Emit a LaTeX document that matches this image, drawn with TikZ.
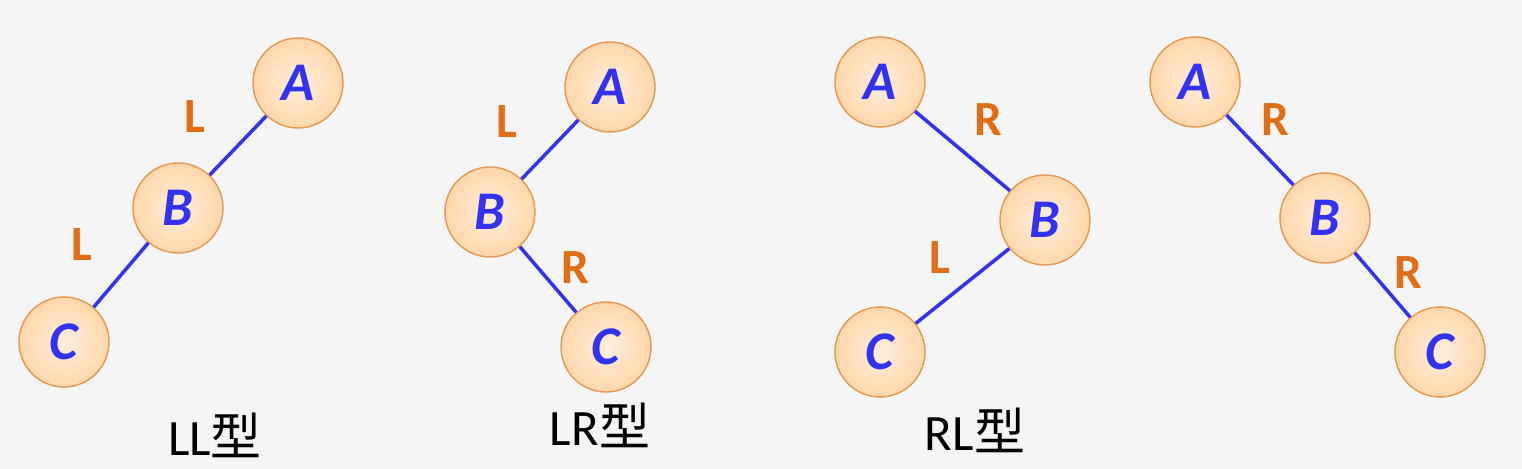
\documentclass[tikz,border=0pt]{standalone}
\usepackage{fontspec}
\setmainfont{Carlito}
\newfontfamily\cjk{Noto Sans CJK SC}
\definecolor{NodeFill}{RGB}{255,214,170}
\definecolor{NodeEdge}{RGB}{232,150,80}
\definecolor{LetterBlue}{RGB}{50,50,240}
\definecolor{SideOrange}{RGB}{225,110,20}
\definecolor{PageBg}{RGB}{245,245,245}

\begin{document}
\begin{tikzpicture}[
    tnode/.style={circle, draw=NodeEdge, line width=0.8pt, inner color=NodeFill!40, outer color=NodeFill, minimum size=1.8cm, font=\fontsize{31}{31}\selectfont\bfseries\itshape, text=LetterBlue},
    edge/.style={draw=LetterBlue, line width=2pt},
    side/.style={font=\fontsize{28}{28}\selectfont\bfseries, text=SideOrange},
    title/.style={font=\fontsize{29}{29}\selectfont}
  ]
    \fill[PageBg] (0,0) rectangle (30.44,9.38);

    % LL
    \node[tnode] (a1) at (5.96,7.72) {A};
    \node[tnode] (b1) at (3.56,5.22) {B};
    \node[tnode] (c1) at (1.28,2.54) {C};
    \draw[edge] (a1) -- (b1);
    \draw[edge] (b1) -- (c1);
    \node[side] (l1) at (3.90,7.04) {L};
    \node[side] (l2) at (1.64,4.48) {L};
    \node[title] (t1) at (4.30,0.68) {LL{\cjk 型}};

    % LR
    \node[tnode] (a2) at (12.2,7.64) {A};
    \node[tnode] (b2) at (9.8,5.14) {B};
    \node[tnode] (c2) at (12.12,2.44) {C};
    \draw[edge] (a2) -- (b2);
    \draw[edge] (b2) -- (c2);
    \node[side] (l3) at (10.14,6.94) {L};
    \node[side] (r1) at (11.5,4.02) {R};
    \node[title] (t2) at (12.0,0.88) {LR{\cjk 型}};

    % RL
    \node[tnode] (a3) at (17.6,7.74) {A};
    \node[tnode] (b3) at (20.9,4.98) {B};
    \node[tnode] (c3) at (17.6,2.34) {C};
    \draw[edge] (a3) -- (b3);
    \draw[edge] (b3) -- (c3);
    \node[side] (r2) at (19.76,6.98) {R};
    \node[side] (l4) at (18.8,4.22) {L};
    \node[title] (t3) at (19.5,0.78) {RL{\cjk 型}};

    % RR
    \node[tnode] (a4) at (23.9,7.74) {A};
    \node[tnode] (b4) at (26.5,5.02) {B};
    \node[tnode] (c4) at (28.8,2.34) {C};
    \draw[edge] (a4) -- (b4);
    \draw[edge] (b4) -- (c4);
    \node[side] (r3) at (25.5,6.98) {R};
    \node[side] (r4) at (28.16,3.92) {R};
\end{tikzpicture}
\end{document}
